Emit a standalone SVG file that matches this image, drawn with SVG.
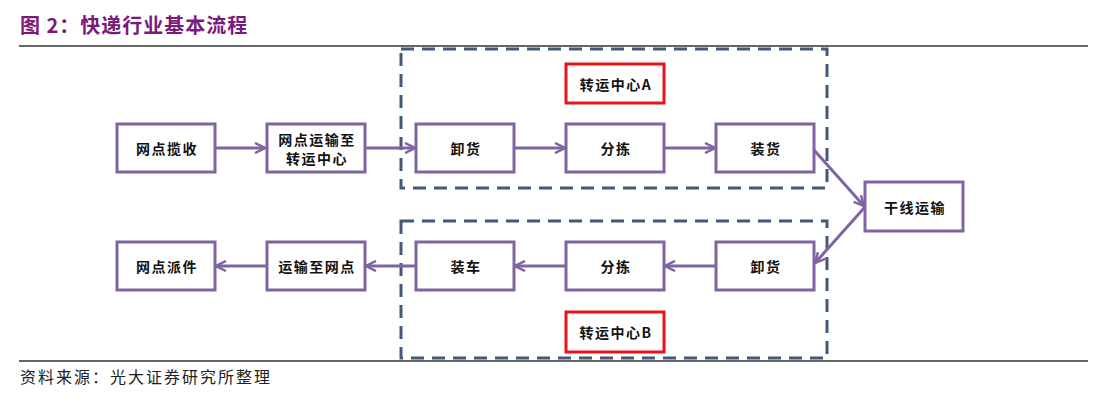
<svg xmlns="http://www.w3.org/2000/svg" width="1105" height="402" viewBox="0 0 1105 402">
<style>
.title{font-family:"Noto Sans CJK SC","Noto Sans",sans-serif;font-size:20px;font-weight:bold;fill:#7B1A7B;letter-spacing:1px}
.src{font-family:"Noto Sans CJK SC","Noto Sans",sans-serif;font-size:16px;fill:#222;letter-spacing:2px}
.box{fill:#fff;stroke:#8064A2;stroke-width:3}
.red{fill:#fff;stroke:#E8141B;stroke-width:3}
.grp{fill:none;stroke:#44597A;stroke-width:3;stroke-dasharray:13,8}
.lbl{font-family:"Noto Sans CJK SC","Noto Sans",sans-serif;font-size:14px;font-weight:bold;fill:#111;text-anchor:middle;dominant-baseline:central;letter-spacing:1.5px}
.con{stroke:#8064A2;stroke-width:3;fill:none}
.rule{stroke:#333;stroke-width:1.5}
</style>
<defs>
<marker id="ah" viewBox="0 0 12 12" refX="11" refY="6" markerWidth="12" markerHeight="12" markerUnits="userSpaceOnUse" orient="auto">
<path d="M1,1 L11,6 L1,11" fill="none" stroke="#8064A2" stroke-width="2.5"/>
</marker>
</defs>
<rect width="1105" height="402" fill="#fff"/>
<text class="title" x="20" y="33">图 2：快递行业基本流程</text>
<line class="rule" x1="19" y1="46" x2="1088" y2="46"/>
<line class="rule" x1="19" y1="361" x2="1088" y2="361"/>
<text class="src" x="20" y="383">资料来源：光大证券研究所整理</text>

<g id="groupA"><rect class="grp" x="401" y="49" width="426" height="139"/></g>
<g id="groupB"><rect class="grp" x="401" y="221" width="426" height="137"/></g>

<g id="connectors">
<line class="con" x1="216" y1="148" x2="265" y2="148" marker-end="url(#ah)"/>
<line class="con" x1="365" y1="148" x2="415" y2="148" marker-end="url(#ah)"/>
<line class="con" x1="514" y1="148" x2="565" y2="148" marker-end="url(#ah)"/>
<line class="con" x1="664" y1="148" x2="715" y2="148" marker-end="url(#ah)"/>
<line class="con" x1="814" y1="150" x2="864" y2="206" marker-end="url(#ah)"/>
<line class="con" x1="865" y1="207" x2="815" y2="263" marker-end="url(#ah)"/>
<line class="con" x1="716" y1="266" x2="665" y2="266" marker-end="url(#ah)"/>
<line class="con" x1="566" y1="266" x2="515" y2="266" marker-end="url(#ah)"/>
<line class="con" x1="416" y1="266" x2="366" y2="266" marker-end="url(#ah)"/>
<line class="con" x1="266" y1="266" x2="216" y2="266" marker-end="url(#ah)"/>
</g>

<g id="n1"><rect class="box" x="117" y="124" width="98" height="48"/><text class="lbl" x="167" y="148">网点揽收</text></g>
<g id="n2"><rect class="box" x="267" y="124" width="98" height="48"/><text class="lbl" x="317" y="139">网点运输至</text><text class="lbl" x="317" y="158">转运中心</text></g>
<g id="n3"><rect class="box" x="416" y="124" width="98" height="48"/><text class="lbl" x="466" y="148">卸货</text></g>
<g id="n4"><rect class="box" x="566" y="124" width="98" height="48"/><text class="lbl" x="616" y="148">分拣</text></g>
<g id="n5"><rect class="box" x="716" y="124" width="98" height="48"/><text class="lbl" x="766" y="148">装货</text></g>
<g id="hubA"><rect class="red" x="566" y="64" width="98" height="39"/><text class="lbl" x="616" y="84">转运中心A</text></g>
<g id="n6"><rect class="box" x="865" y="182" width="98" height="49"/><text class="lbl" x="915" y="207">干线运输</text></g>
<g id="n7"><rect class="box" x="716" y="242" width="98" height="48"/><text class="lbl" x="766" y="266">卸货</text></g>
<g id="n8"><rect class="box" x="566" y="242" width="98" height="48"/><text class="lbl" x="616" y="266">分拣</text></g>
<g id="n9"><rect class="box" x="416" y="242" width="98" height="48"/><text class="lbl" x="466" y="266">装车</text></g>
<g id="n10"><rect class="box" x="267" y="242" width="98" height="48"/><text class="lbl" x="317" y="266">运输至网点</text></g>
<g id="n11"><rect class="box" x="117" y="242" width="98" height="48"/><text class="lbl" x="167" y="266">网点派件</text></g>
<g id="hubB"><rect class="red" x="566" y="312" width="98" height="40"/><text class="lbl" x="616" y="332">转运中心B</text></g>
</svg>
